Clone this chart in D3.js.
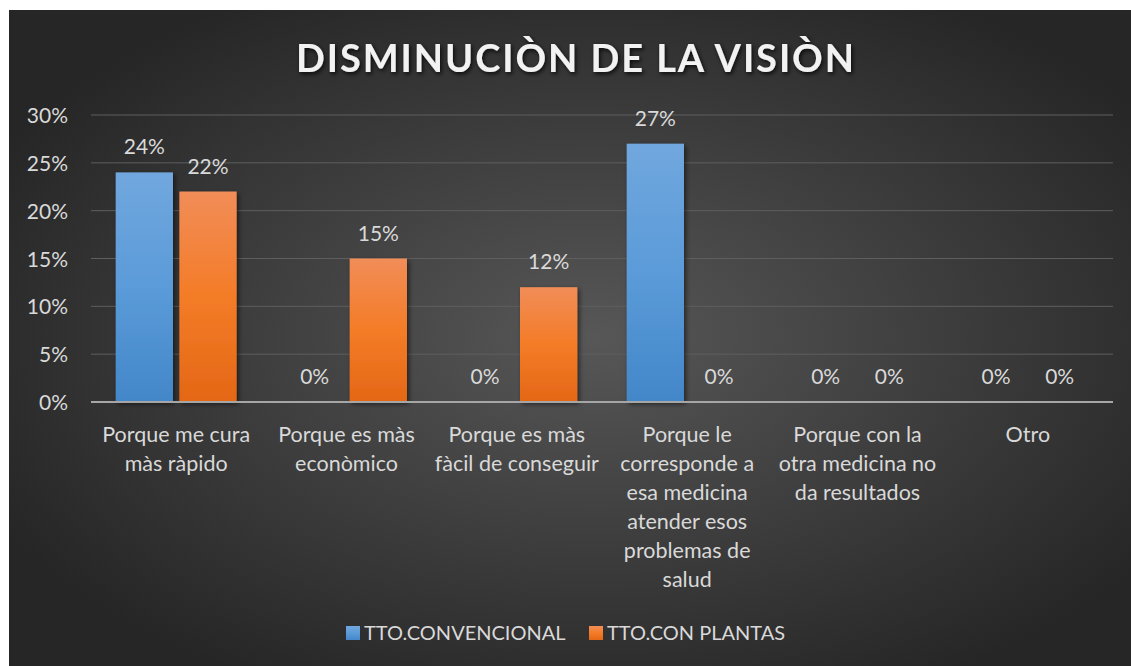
<!DOCTYPE html>
<html>
<head>
<meta charset="utf-8">
<script src="https://cdn.jsdelivr.net/npm/d3@7"></script>
<style>
  body { margin: 0; background: #fff; }
  text { font-family: Lato, "Open Sans", sans-serif; }
</style>
</head>
<body>
<svg id="chart" width="1131" height="666"></svg>
<script>
// data
const categories = [
  "Porque me cura\nmàs ràpido",
  "Porque es màs\neconòmico",
  "Porque es màs\nfàcil de conseguir",
  "Porque le\ncorresponde a\nesa medicina\natender esos\nproblemas de\nsalud",
  "Porque con la\notra medicina no\nda resultados",
  "Otro"
];
const seriesNames = ["TTO.CONVENCIONAL", "TTO.CON PLANTAS"];
const convencional = [24, 0, 0, 27, 0, 0];
const plantas = [22, 15, 12, 0, 0, 0];
const yTicks = [0, 5, 10, 15, 20, 25, 30];

const svg = d3.select('#chart');
const W = 1131, H = 666;
const margin = { left: 91, right: 18, top: 115, bottom: 264 };

const defs = svg.append('defs');

// background gradient
const bg = defs.append('radialGradient')
  .attr('id', 'bg').attr('cx', '52%').attr('cy', '50%').attr('r', '60%');
bg.append('stop').attr('offset', '0%').attr('stop-color', '#575757');
bg.append('stop').attr('offset', '100%').attr('stop-color', '#262626');

const gBlue = defs.append('linearGradient').attr('id', 'gBlue')
  .attr('x1', 0).attr('y1', 0).attr('x2', 0).attr('y2', 1);
gBlue.append('stop').attr('offset', '0%').attr('stop-color', '#71a7de');
gBlue.append('stop').attr('offset', '50%').attr('stop-color', '#5b9bd9');
gBlue.append('stop').attr('offset', '100%').attr('stop-color', '#4387c9');

const gOrange = defs.append('linearGradient').attr('id', 'gOrange')
  .attr('x1', 0).attr('y1', 0).attr('x2', 0).attr('y2', 1);
gOrange.append('stop').attr('offset', '0%').attr('stop-color', '#f18d58');
gOrange.append('stop').attr('offset', '50%').attr('stop-color', '#f47c27');
gOrange.append('stop').attr('offset', '100%').attr('stop-color', '#e46716');

const shadow = defs.append('filter').attr('id', 'shadow')
  .attr('x', '-20%').attr('y', '-20%').attr('width', '150%').attr('height', '150%');
shadow.append('feDropShadow').attr('dx', 2).attr('dy', 2).attr('stdDeviation', 2.5)
  .attr('flood-color', '#000').attr('flood-opacity', 0.55);

const tshadow = defs.append('filter').attr('id', 'tshadow')
  .attr('x', '-10%').attr('y', '-30%').attr('width', '120%').attr('height', '160%');
tshadow.append('feDropShadow').attr('dx', 1.5).attr('dy', 2).attr('stdDeviation', 2)
  .attr('flood-color', '#000').attr('flood-opacity', 0.8);

svg.append('rect').attr('x', 9).attr('y', 10)
  .attr('width', W - 9).attr('height', H - 10).attr('fill', 'url(#bg)');

// title
svg.append('text')
  .attr('x', 575).attr('y', 72)
  .attr('text-anchor', 'middle')
  .attr('font-size', 38).attr('font-weight', 700)
  .attr('fill', '#f2f2f2')
  .attr('textLength', 558).attr('lengthAdjust', 'spacing')
  .attr('filter', 'url(#tshadow)')
  .text('DISMINUCIÒN DE LA VISIÒN');

const x0 = d3.scaleBand()
  .domain(d3.range(categories.length))
  .range([margin.left, W - margin.right])
  .paddingInner(0.29).paddingOuter(0.145);

const x1 = d3.scaleBand()
  .domain([0, 1])
  .range([0, x0.bandwidth()])
  .paddingInner(0.1);

const y = d3.scaleLinear().domain([0, 30]).range([H - margin.bottom, margin.top]);

// grid
svg.append('g')
  .selectAll('line')
  .data(yTicks.filter(d => d > 0))
  .join('line')
  .attr('x1', margin.left).attr('x2', W - margin.right)
  .attr('y1', d => y(d)).attr('y2', d => y(d))
  .attr('stroke', '#5e5e5e').attr('stroke-width', 1);

// y axis labels
const yAxis = d3.axisLeft(y).tickValues(yTicks).tickFormat(d => d + '%').tickSize(0).tickPadding(0);
const ya = svg.append('g').attr('transform', 'translate(68,0)').call(yAxis);
ya.select('.domain').remove();
ya.selectAll('text')
  .attr('font-size', 21).attr('fill', '#d9d9d9')
  .attr('font-family', 'Lato, "Open Sans", sans-serif')
  .attr('dy', '0.36em');

const series = [
  { name: seriesNames[0], values: convencional, fill: 'url(#gBlue)' },
  { name: seriesNames[1], values: plantas, fill: 'url(#gOrange)' }
];

// bars
const groups = svg.append('g').selectAll('g')
  .data(series)
  .join('g');

groups.selectAll('rect')
  .data((s, si) => s.values.map((v, i) => ({ v, i, si, fill: s.fill })))
  .join('rect')
  .attr('x', d => x0(d.i) + x1(d.si))
  .attr('width', x1.bandwidth())
  .attr('y', d => y(d.v))
  .attr('height', d => y(0) - y(d.v))
  .attr('fill', d => d.fill)
  .attr('filter', d => d.v > 0 ? 'url(#shadow)' : null);

// data labels
groups.selectAll('text')
  .data((s, si) => s.values.map((v, i) => ({ v, i, si })))
  .join('text')
  .attr('x', d => x0(d.i) + x1(d.si) + x1.bandwidth() / 2)
  .attr('y', d => y(d.v) - 18)
  .attr('text-anchor', 'middle')
  .attr('font-size', 21).attr('fill', '#d9d9d9')
  .text(d => d.v + '%');

// zero axis line
svg.append('line')
  .attr('x1', margin.left).attr('x2', W - margin.right)
  .attr('y1', y(0)).attr('y2', y(0))
  .attr('stroke', '#a6a6a6').attr('stroke-width', 2);

// category labels
const xLabels = svg.append('g').selectAll('text')
  .data(categories)
  .join('text')
  .attr('text-anchor', 'middle')
  .attr('font-size', 21.5).attr('fill', '#d9d9d9')
  .attr('transform', (d, i) => `translate(${x0(i) + x0.bandwidth() / 2},442)`);
xLabels.selectAll('tspan')
  .data(d => d.split('\n'))
  .join('tspan')
  .attr('x', 0)
  .attr('y', (d, i) => i * 29)
  .text(d => d);

// legend
const legend = svg.append('g');
const legendX = [346, 589];
series.forEach((s, i) => {
  legend.append('rect')
    .attr('x', legendX[i]).attr('y', 626).attr('width', 14).attr('height', 14)
    .attr('fill', s.fill);
  legend.append('text')
    .attr('x', legendX[i] + 18).attr('y', 640)
    .attr('font-size', 20).attr('fill', '#d9d9d9')
    .text(s.name);
});
</script>
</body>
</html>
